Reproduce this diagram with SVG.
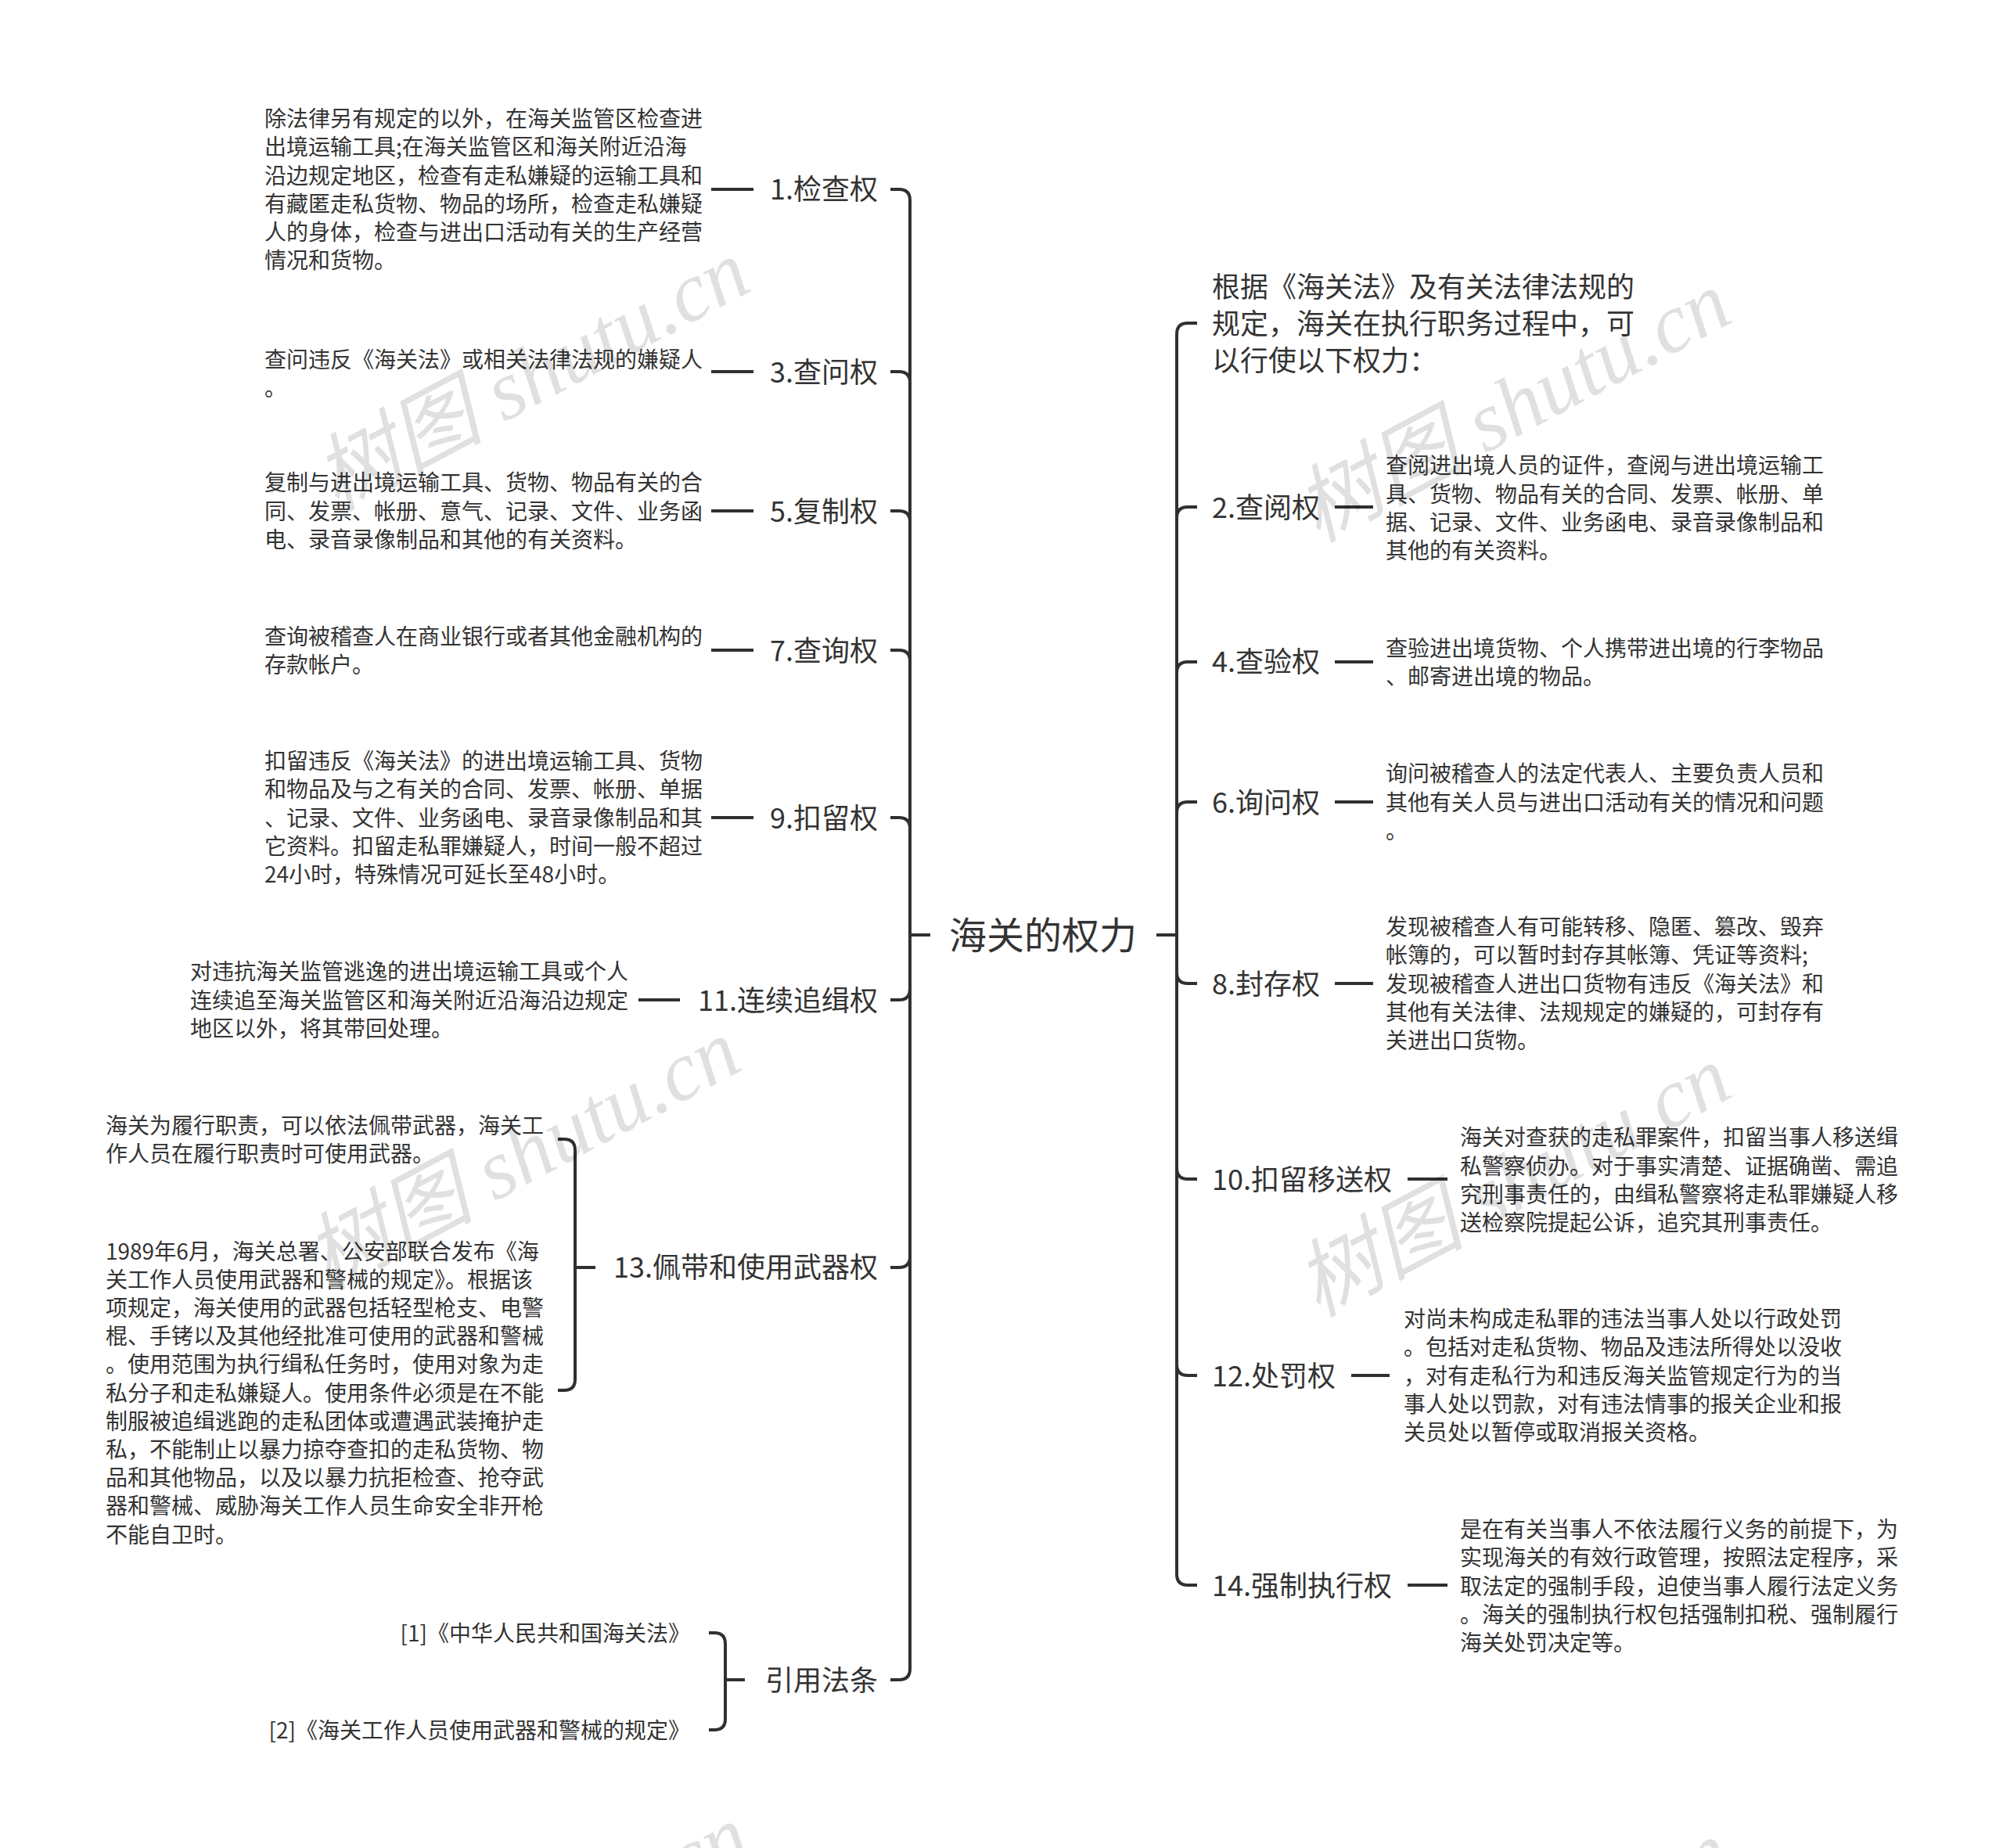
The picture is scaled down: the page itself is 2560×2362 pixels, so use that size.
<svg xmlns="http://www.w3.org/2000/svg" width="2560" height="2362" viewBox="0 0 2560 2362">
<style>
text{font-family:'Noto Sans CJK SC','Noto Sans',sans-serif;fill:#333;}
.root{font-size:48px;text-anchor:middle;}
.lbl{font-size:36px;}
.lblL{font-size:36px;text-anchor:end;}
.desc{font-size:28px;}
.descR{font-size:28px;text-anchor:end;}
.top{font-size:36px;}
.conn path{fill:none;stroke:#303030;stroke-width:4;stroke-linecap:butt;}
.wm{font-family:'Liberation Serif','Noto Sans CJK SC',serif;font-style:italic;font-size:108px;fill:#000;fill-opacity:0.12;text-anchor:middle;}
</style>
<rect width="2560" height="2362" fill="#fff"/>

<g id="connectors" class="conn">
  <path d="M1189 1195H1163"/>
  <path d="M1478 1195H1504"/>
  <path d="M1163 1195V256Q1163 242 1149 242H1138"/>
  <path d="M1163 1195V489Q1163 475 1149 475H1138"/>
  <path d="M1163 1195V667Q1163 653 1149 653H1138"/>
  <path d="M1163 1195V845Q1163 831 1149 831H1138"/>
  <path d="M1163 1195V1059Q1163 1045 1149 1045H1138"/>
  <path d="M1163 1195V1264Q1163 1278 1149 1278H1138"/>
  <path d="M1163 1195V1606Q1163 1620 1149 1620H1138"/>
  <path d="M1163 1195V2133Q1163 2147 1149 2147H1138"/>
  <path d="M1504 1195V427Q1504 413 1518 413H1530"/>
  <path d="M1504 1195V662Q1504 648 1518 648H1530"/>
  <path d="M1504 1195V860Q1504 846 1518 846H1530"/>
  <path d="M1504 1195V1039Q1504 1025 1518 1025H1530"/>
  <path d="M1504 1195V1243Q1504 1257 1518 1257H1530"/>
  <path d="M1504 1195V1493Q1504 1507 1518 1507H1530"/>
  <path d="M1504 1195V1744Q1504 1758 1518 1758H1530"/>
  <path d="M1504 1195V2012Q1504 2026 1518 2026H1530"/>
  <path d="M909 242H963"/>
  <path d="M909 475H963"/>
  <path d="M909 653H963"/>
  <path d="M909 831H963"/>
  <path d="M909 1045H963"/>
  <path d="M816 1278H869"/>
  <path d="M713 1456H721Q735 1456 735 1470V1763Q735 1777 721 1777H713"/>
  <path d="M735 1620H761"/>
  <path d="M906 2087H913Q927 2087 927 2101V2197Q927 2211 913 2211H906"/>
  <path d="M927 2147H952"/>
  <path d="M1706 648H1755"/>
  <path d="M1706 846H1755"/>
  <path d="M1706 1025H1755"/>
  <path d="M1706 1257H1755"/>
  <path d="M1799 1507H1850"/>
  <path d="M1727 1758H1776"/>
  <path d="M1799 2026H1850"/>
</g>

<g id="root"><text class="root" x="1333" y="1213">海关的权力</text></g>

<g id="n1">
  <text class="lblL" x="1122" y="255.3">1.检查权</text>
  <text class="desc"><tspan x="338" y="162.1">除法律另有规定的以外，在海关监管区检查进</tspan><tspan x="338" y="198.3">出境运输工具;在海关监管区和海关附近沿海</tspan><tspan x="338" y="234.5">沿边规定地区，检查有走私嫌疑的运输工具和</tspan><tspan x="338" y="270.7">有藏匿走私货物、物品的场所，检查走私嫌疑</tspan><tspan x="338" y="306.9">人的身体，检查与进出口活动有关的生产经营</tspan><tspan x="338" y="343.1">情况和货物。</tspan></text>
</g>
<g id="n3">
  <text class="lblL" x="1122" y="488.8">3.查问权</text>
  <text class="desc"><tspan x="338" y="469.5">查问违反《海关法》或相关法律法规的嫌疑人</tspan><tspan x="338" y="505.7">。</tspan></text>
</g>
<g id="n5">
  <text class="lblL" x="1122" y="666.8">5.复制权</text>
  <text class="desc"><tspan x="338" y="627.4">复制与进出境运输工具、货物、物品有关的合</tspan><tspan x="338" y="663.6">同、发票、帐册、意气、记录、文件、业务函</tspan><tspan x="338" y="699.8">电、录音录像制品和其他的有关资料。</tspan></text>
</g>
<g id="n7">
  <text class="lblL" x="1122" y="844.7">7.查询权</text>
  <text class="desc"><tspan x="338" y="823.5">查询被稽查人在商业银行或者其他金融机构的</tspan><tspan x="338" y="859.7">存款帐户。</tspan></text>
</g>
<g id="n9">
  <text class="lblL" x="1122" y="1058.6">9.扣留权</text>
  <text class="desc"><tspan x="338" y="983.2">扣留违反《海关法》的进出境运输工具、货物</tspan><tspan x="338" y="1019.4">和物品及与之有关的合同、发票、帐册、单据</tspan><tspan x="338" y="1055.6">、记录、文件、业务函电、录音录像制品和其</tspan><tspan x="338" y="1091.8">它资料。扣留走私罪嫌疑人，时间一般不超过</tspan><tspan x="338" y="1128">24小时，特殊情况可延长至48小时。</tspan></text>
</g>
<g id="n11">
  <text class="lblL" x="1122" y="1292.1">11.连续追缉权</text>
  <text class="desc"><tspan x="243" y="1252.4">对违抗海关监管逃逸的进出境运输工具或个人</tspan><tspan x="243" y="1288.6">连续追至海关监管区和海关附近沿海沿边规定</tspan><tspan x="243" y="1324.8">地区以外，将其带回处理。</tspan></text>
</g>
<g id="n13">
  <text class="lblL" x="1122" y="1633.3">13.佩带和使用武器权</text>
  <text class="desc"><tspan x="135" y="1448.5">海关为履行职责，可以依法佩带武器，海关工</tspan><tspan x="135" y="1484.7">作人员在履行职责时可使用武器。</tspan></text>
  <text class="desc"><tspan x="135" y="1609.6">1989年6月，海关总署、公安部联合发布《海</tspan><tspan x="135" y="1645.8">关工作人员使用武器和警械的规定》。根据该</tspan><tspan x="135" y="1682">项规定，海关使用的武器包括轻型枪支、电警</tspan><tspan x="135" y="1718.2">棍、手铐以及其他经批准可使用的武器和警械</tspan><tspan x="135" y="1754.4">。使用范围为执行缉私任务时，使用对象为走</tspan><tspan x="135" y="1790.6">私分子和走私嫌疑人。使用条件必须是在不能</tspan><tspan x="135" y="1826.8">制服被追缉逃跑的走私团体或遭遇武装掩护走</tspan><tspan x="135" y="1863">私，不能制止以暴力掠夺查扣的走私货物、物</tspan><tspan x="135" y="1899.2">品和其他物品，以及以暴力抗拒检查、抢夺武</tspan><tspan x="135" y="1935.4">器和警械、威胁海关工作人员生命安全非开枪</tspan><tspan x="135" y="1971.6">不能自卫时。</tspan></text>
</g>
<g id="nref">
  <text class="lblL" x="1122" y="2160.7">引用法条</text>
  <text class="descR" x="882" y="2097.6">[1]《中华人民共和国海关法》</text>
  <text class="descR" x="882" y="2221.6">[2]《海关工作人员使用武器和警械的规定》</text>
</g>

<g id="ntop">
  <text class="top"><tspan x="1549" y="379.7">根据《海关法》及有关法律法规的</tspan><tspan x="1549" y="426.7">规定，海关在执行职务过程中，可</tspan><tspan x="1549" y="473.7">以行使以下权力：</tspan></text>
</g>
<g id="n2">
  <text class="lbl" x="1549" y="661.9">2.查阅权</text>
  <text class="desc"><tspan x="1771" y="605.3">查阅进出境人员的证件，查阅与进出境运输工</tspan><tspan x="1771" y="641.5">具、货物、物品有关的合同、发票、帐册、单</tspan><tspan x="1771" y="677.7">据、记录、文件、业务函电、录音录像制品和</tspan><tspan x="1771" y="713.9">其他的有关资料。</tspan></text>
</g>
<g id="n4">
  <text class="lbl" x="1549" y="859.4">4.查验权</text>
  <text class="desc"><tspan x="1771" y="838.5">查验进出境货物、个人携带进出境的行李物品</tspan><tspan x="1771" y="874.7">、邮寄进出境的物品。</tspan></text>
</g>
<g id="n6">
  <text class="lbl" x="1549" y="1039">6.询问权</text>
  <text class="desc"><tspan x="1771" y="999.4">询问被稽查人的法定代表人、主要负责人员和</tspan><tspan x="1771" y="1035.6">其他有关人员与进出口活动有关的情况和问题</tspan><tspan x="1771" y="1071.8">。</tspan></text>
</g>
<g id="n8">
  <text class="lbl" x="1549" y="1270.9">8.封存权</text>
  <text class="desc"><tspan x="1771" y="1195.2">发现被稽查人有可能转移、隐匿、篡改、毁弃</tspan><tspan x="1771" y="1231.4">帐簿的，可以暂时封存其帐簿、凭证等资料;</tspan><tspan x="1771" y="1267.6">发现被稽查人进出口货物有违反《海关法》和</tspan><tspan x="1771" y="1303.8">其他有关法律、法规规定的嫌疑的，可封存有</tspan><tspan x="1771" y="1340">关进出口货物。</tspan></text>
</g>
<g id="n10">
  <text class="lbl" x="1549" y="1520.7">10.扣留移送权</text>
  <text class="desc"><tspan x="1866" y="1464.3">海关对查获的走私罪案件，扣留当事人移送缉</tspan><tspan x="1866" y="1500.5">私警察侦办。对于事实清楚、证据确凿、需追</tspan><tspan x="1866" y="1536.7">究刑事责任的，由缉私警察将走私罪嫌疑人移</tspan><tspan x="1866" y="1572.9">送检察院提起公诉，追究其刑事责任。</tspan></text>
</g>
<g id="n12">
  <text class="lbl" x="1549" y="1772.1">12.处罚权</text>
  <text class="desc"><tspan x="1794" y="1696.2">对尚未构成走私罪的违法当事人处以行政处罚</tspan><tspan x="1794" y="1732.4">。包括对走私货物、物品及违法所得处以没收</tspan><tspan x="1794" y="1768.6">，对有走私行为和违反海关监管规定行为的当</tspan><tspan x="1794" y="1804.8">事人处以罚款，对有违法情事的报关企业和报</tspan><tspan x="1794" y="1841">关员处以暂停或取消报关资格。</tspan></text>
</g>
<g id="n14">
  <text class="lbl" x="1549" y="2039.9">14.强制执行权</text>
  <text class="desc"><tspan x="1866" y="1965.2">是在有关当事人不依法履行义务的前提下，为</tspan><tspan x="1866" y="2001.4">实现海关的有效行政管理，按照法定程序，采</tspan><tspan x="1866" y="2037.6">取法定的强制手段，迫使当事人履行法定义务</tspan><tspan x="1866" y="2073.8">。海关的强制执行权包括强制扣税、强制履行</tspan><tspan x="1866" y="2110">海关处罚决定等。</tspan></text>
</g>

<g id="watermarks">
  <text class="wm" transform="translate(680 480) rotate(-28)" y="36">树图 shutu.cn</text>
  <text class="wm" transform="translate(1934 520) rotate(-28)" y="36">树图 shutu.cn</text>
  <text class="wm" transform="translate(668 1476) rotate(-28)" y="36">树图 shutu.cn</text>
  <text class="wm" transform="translate(1934 1510) rotate(-28)" y="36">树图 shutu.cn</text>
  <text class="wm" transform="translate(680 2480) rotate(-28)" y="36">树图 shutu.cn</text>
  <text class="wm" transform="translate(1934 2500) rotate(-28)" y="36">树图 shutu.cn</text>
</g>
</svg>
